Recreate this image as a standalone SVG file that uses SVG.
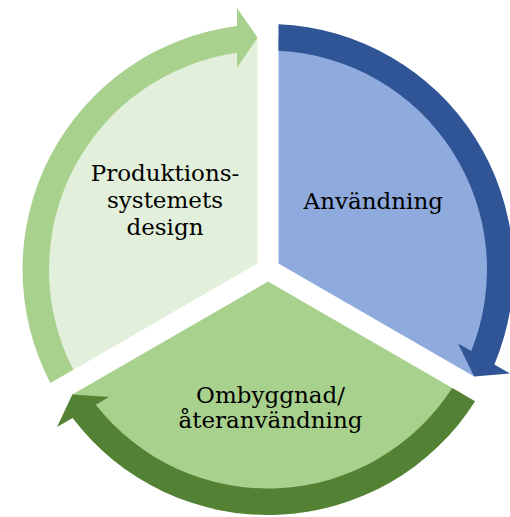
<svg xmlns="http://www.w3.org/2000/svg" xmlns:xlink="http://www.w3.org/1999/xlink" width="510" height="517" viewBox="0 0 510 517">
<style>
.lbl{font-family:"DejaVu Serif","Liberation Serif",serif;font-size:23px;fill:#000;text-anchor:middle}
</style>
<defs>
<path id="sector" d="M -10.5 -6.062 L -206.18 106.91 A 232.25 232.25 0 0 1 -10.5 -232.01 Z"/>
<path id="arrow" d="M -194.69 100.28 L -217.66 113.54 A 245.5 245.5 0 0 1 -31 -243.53 L -31 -261.5 L -10.5 -232.01 L -31 -201.5 L -31 -216.79 A 219 219 0 0 0 -194.69 100.28 Z"/>
</defs>
<rect width="510" height="517" fill="#fff"/>
<g id="node-design">
<use xlink:href="#sector" href="#sector" transform="translate(268 269.5)" fill="#E2EFDA"/>
<text class="lbl" x="165" y="180.7">Produktions-</text>
<text class="lbl" x="165" y="207.5">systemets</text>
<text class="lbl" x="165" y="234.5">design</text>
</g>
<g id="node-anvandning">
<use xlink:href="#sector" href="#sector" transform="translate(268 269.5) rotate(120)" fill="#8FAADC"/>
<text class="lbl" x="373.3" y="209.3">Användning</text>
</g>
<g id="node-ombyggnad">
<use xlink:href="#sector" href="#sector" transform="translate(268 269.5) rotate(240)" fill="#A9D18E"/>
<text class="lbl" x="270.5" y="403.3">Ombyggnad/</text>
<text class="lbl" x="270.5" y="428.3">återanvändning</text>
</g>
<g id="connectors">
<use xlink:href="#arrow" href="#arrow" transform="translate(268 269.5)" fill="#A9D18E"/>
<use xlink:href="#arrow" href="#arrow" transform="translate(268 269.5) rotate(120)" fill="#2F5597"/>
<use xlink:href="#arrow" href="#arrow" transform="translate(268 269.5) rotate(240)" fill="#548235"/>
</g>
</svg>
